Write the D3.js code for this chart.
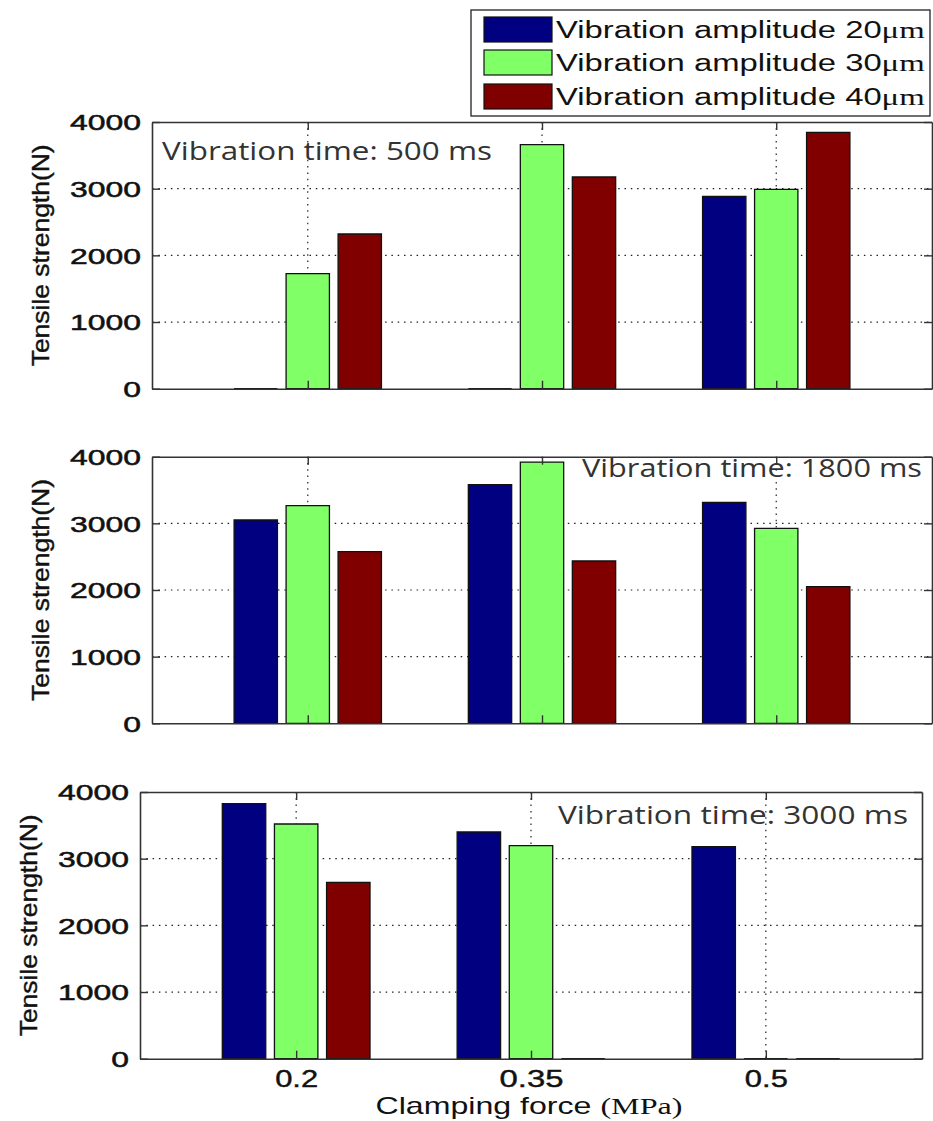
<!DOCTYPE html>
<html>
<head>
<meta charset="utf-8">
<script src="https://cdn.jsdelivr.net/npm/d3@7"></script>
<style>
  html, body { margin: 0; padding: 0; background: #fff; }
  svg { display: block; }
</style>
</head>
<body>
<svg id="chart" width="933" height="1121"></svg>
<script>
// ---------- data ----------
const categories = ["0.2", "0.35", "0.5"];
const seriesNames = ["Vibration amplitude 20", "Vibration amplitude 30", "Vibration amplitude 40"];
const seriesColors = ["#000080", "#80ff66", "#800000"];
const yTicks = [0, 1000, 2000, 3000, 4000];
const panelTitles = ["Vibration time: 500 ms", "Vibration time: 1800 ms", "Vibration time: 3000 ms"];

// Tensile strength (N), per vibration time, per amplitude
const amp20_500  = [0, 0, 2885];
const amp30_500  = [1725, 3660, 2990];
const amp40_500  = [2320, 3175, 3845];

const amp20_1800 = [3050, 3580, 3315];
const amp30_1800 = [3265, 3920, 2925];
const amp40_1800 = [2575, 2435, 2050];

const amp20_3000 = [3825, 3400, 3180];
const amp30_3000 = [3520, 3195, 0];
const amp40_3000 = [2645, 0, 0];

const panelData = [
  [amp20_500, amp30_500, amp40_500],
  [amp20_1800, amp30_1800, amp40_1800],
  [amp20_3000, amp30_3000, amp40_3000]
];

// ---------- layout ----------
const panels = [
  { left: 152, right: 932, top: 122, bottom: 388.7, titleX: 162, titleY: 160, titleLen: 330, showX: false },
  { left: 152, right: 932, top: 456.7, bottom: 723.3, titleX: 582, titleY: 476.7, titleLen: 340, showX: false },
  { left: 140, right: 922, top: 792, bottom: 1058.7, titleX: 558, titleY: 824, titleLen: 350, showX: true }
];

const svg = d3.select("#chart");
const axisColor = "#333";
const gridDash = "1.5,4.8";
const barOffset = 0.222, barWidth = 0.185;
const sansFont = "'Liberation Sans', Arial, sans-serif";
const serifFont = "'Liberation Serif', 'Times New Roman', serif";

// horizontally fit a text node to a target width, anchored at (tx,ty)
function fitText(node, tx, ty, target) {
  const sel = d3.select(node);
  sel.attr("x", null).attr("y", null).attr("transform", null);
  const w = node.getBBox().width || 1;
  sel.attr("transform", `translate(${tx},${ty}) scale(${target / w},1)`);
}

panels.forEach((p, pi) => {
  const x = d3.scaleLinear().domain([0.335, 3.665]).range([p.left, p.right]);
  const y = d3.scaleLinear().domain([0, 4000]).range([p.bottom, p.top]);
  const g = svg.append("g");

  // grid
  g.selectAll(".hgrid").data(yTicks.filter(t => t > 0 && t < 4000)).enter().append("line")
    .attr("x1", p.left).attr("x2", p.right)
    .attr("y1", d => y(d)).attr("y2", d => y(d))
    .attr("stroke", "#222").attr("stroke-width", 1.2).attr("stroke-dasharray", gridDash);
  g.selectAll(".vgrid").data(categories).enter().append("line")
    .attr("x1", (d, i) => x(i + 1)).attr("x2", (d, i) => x(i + 1))
    .attr("y1", p.top).attr("y2", p.bottom)
    .attr("stroke", "#222").attr("stroke-width", 1.2).attr("stroke-dasharray", gridDash);

  // bars
  panelData[pi].forEach((vals, si) => {
    g.selectAll(".bar" + si).data(vals).enter().append("path")
      .attr("d", (v, ci) => {
        const cx = ci + 1 + (si - 1) * barOffset;
        const x0 = x(cx - barWidth / 2), x1 = x(cx + barWidth / 2);
        const y0 = y(0), y1 = y(v);
        return `M${x0},${y0}V${y1}H${x1}V${y0}Z`;
      })
      .attr("fill", seriesColors[si])
      .attr("stroke", "#111").attr("stroke-width", 1.3);
  });

  // axes (ticks inward)
  const yAxisL = d3.axisLeft(y).tickValues(yTicks).tickSizeInner(-8).tickSizeOuter(0).tickFormat(d3.format("d"));
  const yAxisR = d3.axisRight(y).tickValues(yTicks).tickSizeInner(-8).tickSizeOuter(0).tickFormat("");
  const xAxisB = d3.axisBottom(x).tickValues([1, 2, 3]).tickSizeInner(-8).tickSizeOuter(0)
    .tickFormat((d) => p.showX ? categories[d - 1] : "");
  const xAxisT = d3.axisTop(x).tickValues([1, 2, 3]).tickSizeInner(-8).tickSizeOuter(0).tickFormat("");

  const gl = g.append("g").attr("transform", `translate(${p.left},0)`).call(yAxisL);
  const gr = g.append("g").attr("transform", `translate(${p.right},0)`).call(yAxisR);
  const gb = g.append("g").attr("transform", `translate(0,${p.bottom})`).call(xAxisB);
  const gt = g.append("g").attr("transform", `translate(0,${p.top})`).call(xAxisT);

  [gl, gr, gb, gt].forEach(a => {
    a.select(".domain").attr("stroke", axisColor).attr("stroke-width", 1.6);
    a.selectAll(".tick line").attr("stroke", axisColor).attr("stroke-width", 1.4);
  });

  gl.selectAll(".tick text")
    .attr("dy", "0.36em")
    .attr("fill", "#111")
    .style("font-family", sansFont).style("font-size", "22px")
    .style("stroke", "#111").style("stroke-width", "0.5px")
    .each(function(d) { fitText(this, -11, 0, 17.75 * String(d).length); });

  if (p.showX) {
    gb.selectAll(".tick text")
      .attr("dy", null)
      .attr("fill", "#111")
      .style("font-family", sansFont).style("font-size", "23px")
      .style("stroke", "#111").style("stroke-width", "0.4px")
      .each(function(d) { fitText(this, 0, 28, categories[d - 1].length === 3 ? 43 : 64); });
  }

  // y label
  const cy = (p.top + p.bottom) / 2;
  g.append("text")
    .attr("transform", `translate(${p.left - 103},${cy}) rotate(-90)`)
    .attr("text-anchor", "middle")
    .attr("textLength", 222).attr("lengthAdjust", "spacingAndGlyphs")
    .attr("fill", "#111")
    .style("stroke", "#111").style("stroke-width", "0.4px")
    .style("font-family", sansFont).style("font-size", "24px")
    .text("Tensile strength(N)");

  // panel annotation
  g.append("text")
    .attr("x", p.titleX).attr("y", p.titleY)
    .attr("textLength", p.titleLen).attr("lengthAdjust", "spacingAndGlyphs")
    .attr("fill", "#333")
    .style("font-family", "'Open Sans', 'Noto Sans', sans-serif").style("font-size", "26px")
    .text(panelTitles[pi]);
});

// x axis title
const xt = svg.append("text")
  .attr("text-anchor", "middle")
  .attr("fill", "#111")
  .style("font-size", "24px");
xt.append("tspan").style("font-family", sansFont).text("Clamping force ");
xt.append("tspan").style("font-family", serifFont).text("(MPa)");
fitText(xt.node(), 529, 1114, 307);

// legend
const lg = svg.append("g");
lg.append("rect").attr("x", 471).attr("y", 10).attr("width", 459).attr("height", 106)
  .attr("fill", "#fff").attr("stroke", "#222").attr("stroke-width", 1.3);
const rowY = [17, 50, 84];
seriesNames.forEach((name, i) => {
  lg.append("rect").attr("x", 484).attr("y", rowY[i]).attr("width", 68).attr("height", 25)
    .attr("fill", seriesColors[i]).attr("stroke", "#111").attr("stroke-width", 1.2);
  const t = lg.append("text")
    .attr("fill", "#111").style("font-size", "23px");
  t.append("tspan").style("font-family", sansFont).text(name);
  t.append("tspan").style("font-family", serifFont).text("\u03bcm");
  fitText(t.node(), 556, rowY[i] + 21, 369);
});
</script>
</body>
</html>
